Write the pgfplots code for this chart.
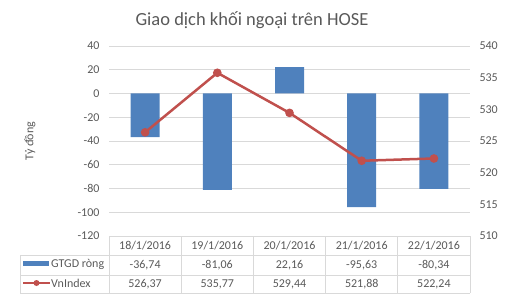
\documentclass[border=0pt]{standalone}
\usepackage{pgfplots}
\pgfplotsset{compat=1.18}
\usepackage{fontspec}
\setmainfont{Carlito}
\definecolor{txt}{HTML}{595959}
\definecolor{gridc}{HTML}{D9D9D9}
\definecolor{barc}{HTML}{4F81BD}
\definecolor{linec}{HTML}{C0504D}
\begin{document}
\begin{tikzpicture}[x=1pt,y=1pt]
\path[use as bounding box] (0,0) rectangle (518,300);
\begin{axis}[
  scale only axis, width=361pt, height=190pt,
  at={(109pt,64pt)}, anchor=south west,
  xmin=-0.5, xmax=4.5, ymin=-120, ymax=40,
  ytick={-120,-100,...,40}, xtick=\empty,
  ymajorgrids, grid style={gridc, line width=0.8pt},
  axis line style={draw=none}, major tick length=0pt,
  tick label style={font=\fontsize{12}{14}\selectfont, text=txt},
  /pgf/number format/assume math mode=true,
  yticklabel style={xshift=-6pt},
]
\addplot[ybar, bar width=29pt, fill=barc, draw=none] coordinates {
  (0,-36.74) (1,-81.06) (2,22.16) (3,-95.63) (4,-80.34)};
\end{axis}
\begin{axis}[
  scale only axis, width=361pt, height=190pt,
  at={(109pt,64pt)}, anchor=south west,
  xmin=-0.5, xmax=4.5, ymin=510, ymax=540,
  ytick={510,515,...,540}, xtick=\empty,
  axis y line*=right, axis x line=none,
  axis line style={draw=none}, major tick length=0pt,
  tick label style={font=\fontsize{12}{14}\selectfont, text=txt},
  /pgf/number format/assume math mode=true,
  yticklabel style={anchor=west, xshift=6pt},
]
\addplot[linec, line width=2.5pt, mark=*, mark size=3pt, mark options={fill=linec, draw=linec}] coordinates {
  (0,526.37) (1,535.77) (2,529.44) (3,521.88) (4,522.24)};
\end{axis}
% title and y label
\node[text=txt, font=\fontsize{18.5}{20}\selectfont] at (252,280) {Giao dịch khối ngoại trên HOSE};
\node[text=txt, rotate=90, font=\fontsize{12}{14}\selectfont] at (30,159) {Tỷ đồng};
% data table
\draw[gridc, line width=0.8pt] (109,64) -- (470,64);
\draw[gridc, line width=0.8pt] (20,45) -- (470,45);
\draw[gridc, line width=0.8pt] (20,25) -- (470,25);
\draw[gridc, line width=0.8pt] (20,7) -- (470,7);
\draw[gridc, line width=0.8pt] (20,45) -- (20,7);
\foreach \xx in {109,181.2,253.4,325.6,397.8,470} {\draw[gridc, line width=0.8pt] (\xx,64) -- (\xx,7);}
\foreach \d [count=\i from 0] in {18/1/2016,19/1/2016,20/1/2016,21/1/2016,22/1/2016}
  {\node[text=txt, font=\fontsize{12}{14}\selectfont] at (145.1+72.2*\i,54.5) {\d};}
\foreach \v [count=\i from 0] in {-36,74,-81,06,22,16,-95,63,-80,34}{}
\foreach \v [count=\i from 0] in {{-36,74},{-81,06},{22,16},{-95,63},{-80,34}}
  {\node[text=txt, font=\fontsize{12}{14}\selectfont] at (145.1+72.2*\i,35) {\v};}
\foreach \v [count=\i from 0] in {{526,37},{535,77},{529,44},{521,88},{522,24}}
  {\node[text=txt, font=\fontsize{12}{14}\selectfont] at (145.1+72.2*\i,16) {\v};}
\fill[barc] (23,34) rectangle (49,39.5);
\node[text=txt, anchor=west, inner sep=0pt, font=\fontsize{12}{14}\selectfont] at (51,36) {GTGD ròng};
\draw[linec, line width=2.5pt] (23,17) -- (50,17);
\fill[linec] (36.5,17) circle (3pt);
\node[text=txt, anchor=west, inner sep=0pt, font=\fontsize{12}{14}\selectfont] at (51,17) {VnIndex};
\end{tikzpicture}
\end{document}
